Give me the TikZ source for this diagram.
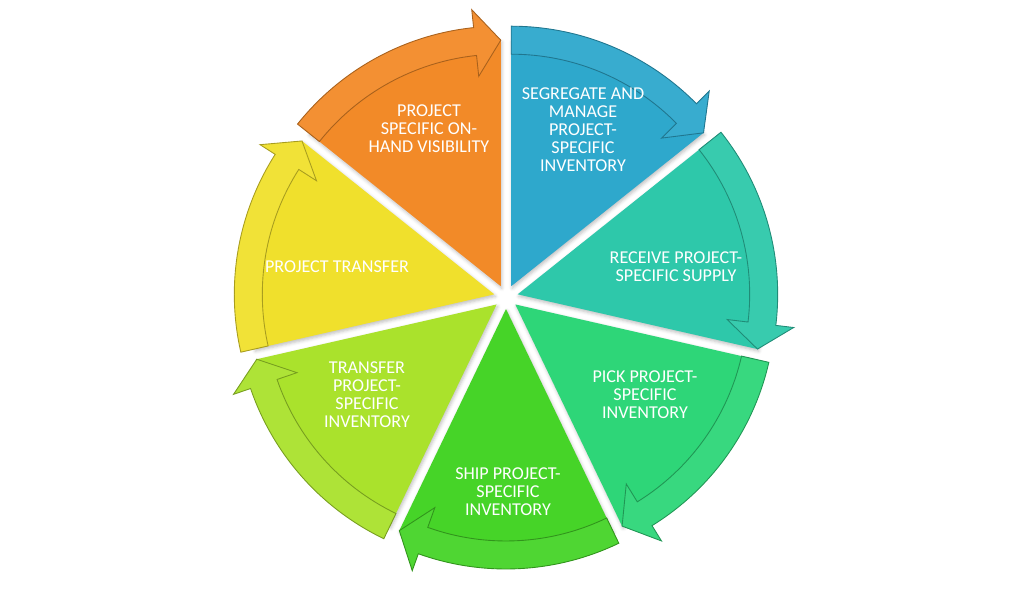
\documentclass[tikz,border=0pt]{standalone}
\usepackage{fontspec}
\setmainfont{Carlito}
\usepackage{tikz}
\usetikzlibrary{shadows.blur}

\definecolor{cOrange}{RGB}{242,138,40}
\definecolor{cBlue}{RGB}{46,168,204}
\definecolor{cTeal}{RGB}{46,200,170}
\definecolor{cPick}{RGB}{46,214,120}
\definecolor{cShip}{RGB}{70,212,40}
\definecolor{cLime}{RGB}{170,226,44}
\definecolor{cYellow}{RGB}{240,224,44}

\tikzset{
  wedge/.style={blur shadow={shadow xshift=0.6pt,shadow yshift=-1.2pt,shadow opacity=25,shadow blur steps=4}},
  band/.style={line width=0.5pt,line join=miter},
  lbl/.style={text=white,align=center,font=\fontsize{10.3}{10.2}\selectfont}
}

\begin{document}
\begin{tikzpicture}
\useasboundingbox (-10.12,-5.96) rectangle (10.16,5.94);
% seven wedges, each with its arrow band on the rim
\foreach \a/\col in {90/cOrange,38.57/cBlue,-12.86/cTeal,-64.29/cPick,-115.71/cShip,-167.14/cLime,-218.57/cYellow}{
  \pgfmathsetmacro{\b}{\a+51.43}
  \pgfmathsetmacro{\m}{\a+25.71}
  \pgfmathsetmacro{\h}{\a+6}
  \begin{scope}[shift={(\m:0.24)}]
    \fill[\col,wedge] (0,0) -- (\a:4.92) arc[start angle=\a,end angle=\b,radius=4.92] -- cycle;
    \draw[band,fill=\col!95!white,draw=\col!70!black]
      (\b:4.64) arc[start angle=\b,end angle=\h,radius=4.64] -- (\h:4.22) -- (\a:4.92)
      -- (\h:5.56) -- (\h:5.2) arc[start angle=\h,end angle=\b,radius=5.2] -- cycle;
  \end{scope}
}
% labels
\node[lbl] (visibility) at (-1.54,3.36) {PROJECT\\SPECIFIC ON-\\HAND VISIBILITY};
\node[lbl] (segregate) at (1.54,3.35) {SEGREGATE AND\\MANAGE\\PROJECT-\\SPECIFIC\\INVENTORY};
\node[lbl] (receive) at (3.4,0.6) {RECEIVE PROJECT-\\SPECIFIC SUPPLY};
\node[lbl] (pick) at (2.78,-1.96) {PICK PROJECT-\\SPECIFIC\\INVENTORY};
\node[lbl] (ship) at (0.04,-3.9) {SHIP PROJECT-\\SPECIFIC\\INVENTORY};
\node[lbl] (transfer) at (-2.78,-1.96) {TRANSFER\\PROJECT-\\SPECIFIC\\INVENTORY};
\node[lbl] (projtransfer) at (-3.38,0.6) {PROJECT TRANSFER};
\end{tikzpicture}
\end{document}
